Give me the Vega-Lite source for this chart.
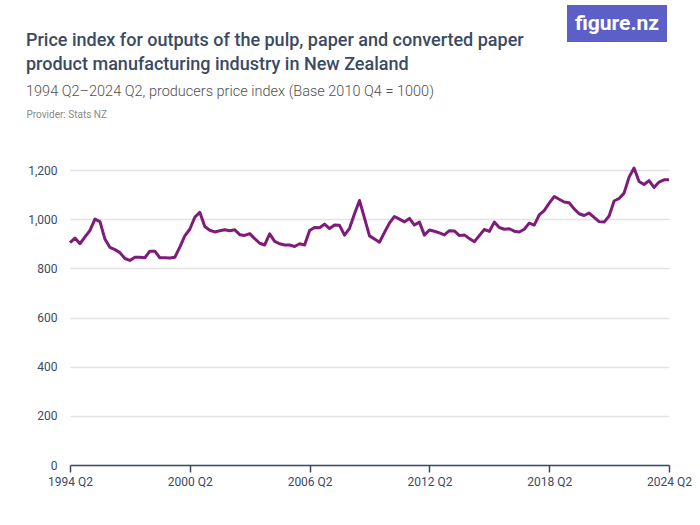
{
  "$schema": "https://vega.github.io/schema/vega-lite/v6.json",
  "width": 599,
  "height": 295,
  "autosize": "none",
  "padding": {"left": 70, "top": 170, "right": 31, "bottom": 60},
  "background": "white",
  "title": {
    "text": ["Price index for outputs of the pulp, paper and converted paper", "product manufacturing industry in New Zealand"],
    "subtitle": "1994 Q2–2024 Q2, producers price index (Base 2010 Q4 = 1000)",
    "anchor": "start",
    "frame": "group",
    "dx": -44,
    "dy": 103,
    "offset": 10,
    "font": "Roboto",
    "fontSize": 18,
    "fontWeight": 500,
    "color": "#3b4a64",
    "lineHeight": 24,
    "subtitleFont": "Roboto",
    "subtitleFontSize": 14.5,
    "subtitleFontWeight": 300,
    "subtitleColor": "#4f4f4f",
    "subtitlePadding": 11
  },
  "data": {
    "values": [
      {"quarter": "1994 Q2", "value": 905}, {"quarter": "1994 Q3", "value": 923}, {"quarter": "1994 Q4", "value": 900},
      {"quarter": "1995 Q1", "value": 928}, {"quarter": "1995 Q2", "value": 954}, {"quarter": "1995 Q3", "value": 1000}, {"quarter": "1995 Q4", "value": 990},
      {"quarter": "1996 Q1", "value": 919}, {"quarter": "1996 Q2", "value": 885}, {"quarter": "1996 Q3", "value": 876}, {"quarter": "1996 Q4", "value": 864},
      {"quarter": "1997 Q1", "value": 840}, {"quarter": "1997 Q2", "value": 832}, {"quarter": "1997 Q3", "value": 845}, {"quarter": "1997 Q4", "value": 845},
      {"quarter": "1998 Q1", "value": 843}, {"quarter": "1998 Q2", "value": 870}, {"quarter": "1998 Q3", "value": 870}, {"quarter": "1998 Q4", "value": 843},
      {"quarter": "1999 Q1", "value": 843}, {"quarter": "1999 Q2", "value": 842}, {"quarter": "1999 Q3", "value": 845}, {"quarter": "1999 Q4", "value": 886},
      {"quarter": "2000 Q1", "value": 932}, {"quarter": "2000 Q2", "value": 959}, {"quarter": "2000 Q3", "value": 1008}, {"quarter": "2000 Q4", "value": 1028},
      {"quarter": "2001 Q1", "value": 970}, {"quarter": "2001 Q2", "value": 955}, {"quarter": "2001 Q3", "value": 948}, {"quarter": "2001 Q4", "value": 953},
      {"quarter": "2002 Q1", "value": 957}, {"quarter": "2002 Q2", "value": 953}, {"quarter": "2002 Q3", "value": 957}, {"quarter": "2002 Q4", "value": 937},
      {"quarter": "2003 Q1", "value": 934}, {"quarter": "2003 Q2", "value": 941}, {"quarter": "2003 Q3", "value": 921}, {"quarter": "2003 Q4", "value": 902},
      {"quarter": "2004 Q1", "value": 895}, {"quarter": "2004 Q2", "value": 940}, {"quarter": "2004 Q3", "value": 910}, {"quarter": "2004 Q4", "value": 900},
      {"quarter": "2005 Q1", "value": 895}, {"quarter": "2005 Q2", "value": 895}, {"quarter": "2005 Q3", "value": 889}, {"quarter": "2005 Q4", "value": 900},
      {"quarter": "2006 Q1", "value": 895}, {"quarter": "2006 Q2", "value": 954}, {"quarter": "2006 Q3", "value": 966}, {"quarter": "2006 Q4", "value": 965},
      {"quarter": "2007 Q1", "value": 980}, {"quarter": "2007 Q2", "value": 962}, {"quarter": "2007 Q3", "value": 976}, {"quarter": "2007 Q4", "value": 975},
      {"quarter": "2008 Q1", "value": 935}, {"quarter": "2008 Q2", "value": 963}, {"quarter": "2008 Q3", "value": 1022}, {"quarter": "2008 Q4", "value": 1076},
      {"quarter": "2009 Q1", "value": 1004}, {"quarter": "2009 Q2", "value": 932}, {"quarter": "2009 Q3", "value": 919}, {"quarter": "2009 Q4", "value": 906},
      {"quarter": "2010 Q1", "value": 946}, {"quarter": "2010 Q2", "value": 984}, {"quarter": "2010 Q3", "value": 1011}, {"quarter": "2010 Q4", "value": 1000},
      {"quarter": "2011 Q1", "value": 989}, {"quarter": "2011 Q2", "value": 1003}, {"quarter": "2011 Q3", "value": 976}, {"quarter": "2011 Q4", "value": 988},
      {"quarter": "2012 Q1", "value": 935}, {"quarter": "2012 Q2", "value": 956}, {"quarter": "2012 Q3", "value": 951}, {"quarter": "2012 Q4", "value": 944},
      {"quarter": "2013 Q1", "value": 936}, {"quarter": "2013 Q2", "value": 953}, {"quarter": "2013 Q3", "value": 952}, {"quarter": "2013 Q4", "value": 933},
      {"quarter": "2014 Q1", "value": 936}, {"quarter": "2014 Q2", "value": 921}, {"quarter": "2014 Q3", "value": 908}, {"quarter": "2014 Q4", "value": 933},
      {"quarter": "2015 Q1", "value": 958}, {"quarter": "2015 Q2", "value": 950}, {"quarter": "2015 Q3", "value": 988}, {"quarter": "2015 Q4", "value": 966},
      {"quarter": "2016 Q1", "value": 959}, {"quarter": "2016 Q2", "value": 961}, {"quarter": "2016 Q3", "value": 951}, {"quarter": "2016 Q4", "value": 948},
      {"quarter": "2017 Q1", "value": 959}, {"quarter": "2017 Q2", "value": 984}, {"quarter": "2017 Q3", "value": 976}, {"quarter": "2017 Q4", "value": 1017},
      {"quarter": "2018 Q1", "value": 1035}, {"quarter": "2018 Q2", "value": 1065}, {"quarter": "2018 Q3", "value": 1092}, {"quarter": "2018 Q4", "value": 1081},
      {"quarter": "2019 Q1", "value": 1070}, {"quarter": "2019 Q2", "value": 1067}, {"quarter": "2019 Q3", "value": 1042}, {"quarter": "2019 Q4", "value": 1022},
      {"quarter": "2020 Q1", "value": 1015}, {"quarter": "2020 Q2", "value": 1025}, {"quarter": "2020 Q3", "value": 1007}, {"quarter": "2020 Q4", "value": 990},
      {"quarter": "2021 Q1", "value": 988}, {"quarter": "2021 Q2", "value": 1013}, {"quarter": "2021 Q3", "value": 1074}, {"quarter": "2021 Q4", "value": 1084},
      {"quarter": "2022 Q1", "value": 1106}, {"quarter": "2022 Q2", "value": 1171}, {"quarter": "2022 Q3", "value": 1208}, {"quarter": "2022 Q4", "value": 1153},
      {"quarter": "2023 Q1", "value": 1141}, {"quarter": "2023 Q2", "value": 1157}, {"quarter": "2023 Q3", "value": 1129}, {"quarter": "2023 Q4", "value": 1151},
      {"quarter": "2024 Q1", "value": 1160}, {"quarter": "2024 Q2", "value": 1160}
    ]
  },
  "mark": {"type": "line", "strokeWidth": 3, "clip": false, "strokeJoin": "round"},
  "encoding": {
    "x": {
      "field": "quarter",
      "type": "ordinal",
      "scale": {"type": "point", "padding": 0},
      "axis": {
        "title": null,
        "values": ["1994 Q2", "2000 Q2", "2006 Q2", "2012 Q2", "2018 Q2", "2024 Q2"],
        "labelAngle": 0,
        "labelFont": "Roboto",
        "labelFontSize": 12,
        "labelColor": "#3b4a64",
        "labelPadding": 4,
        "domainColor": "#3b4a64",
        "domainWidth": 1.5,
        "tickColor": "#3b4a64",
        "tickWidth": 1.5,
        "tickSize": 7,
        "grid": false
      }
    },
    "y": {
      "field": "value",
      "type": "quantitative",
      "scale": {"domain": [0, 1200], "nice": false},
      "axis": {
        "title": "Provider: Stats NZ",
        "titleAngle": 0,
        "titleAlign": "left",
        "titleBaseline": "alphabetic",
        "titleX": -44,
        "titleY": -53,
        "titleFont": "Roboto",
        "titleFontSize": 10,
        "titleFontWeight": "normal",
        "titleColor": "#8a8a8a",
        "values": [0, 200, 400, 600, 800, 1000, 1200],
        "format": ",d",
        "labelFont": "Roboto",
        "labelFontSize": 12,
        "labelColor": "#3b4a64",
        "labelPadding": 13,
        "ticks": false,
        "domain": false,
        "gridColor": "#e3e3e3",
        "gridWidth": 1.5
      }
    },
    "color": {
      "datum": "Price index",
      "scale": {"range": ["#7f1b78"]},
      "legend": {
        "title": "figure.nz",
        "values": [],
        "orient": "none",
        "legendX": 497,
        "legendY": -165,
        "fillColor": "#5b5fc7",
        "padding": 8,
        "titleColor": "white",
        "titleFont": "Roboto",
        "titleFontSize": 21,
        "titleFontWeight": "bold",
        "titlePadding": 0
      }
    }
  },
  "config": {"view": {"stroke": null}}
}
